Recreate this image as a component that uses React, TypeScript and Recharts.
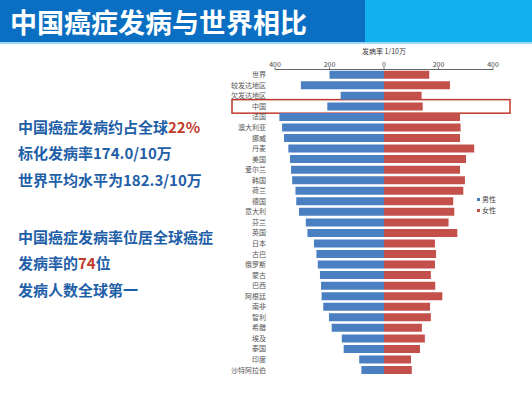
import React from 'react';
import {
    BarChart, Bar, XAxis, YAxis, Legend, ReferenceArea, Label,
} from 'recharts';

const BLUE = '#4a80c2';
const RED = '#c4504c';
const TEXT_BLUE = '#1f5fa8';
const FONT = '"Noto Sans CJK SC", "Noto Sans", sans-serif';

// 每10万人发病率
const countries = [
    '世界', '较发达地区', '欠发达地区', '中国', '法国', '澳大利亚', '挪威', '丹麦', '美国', '爱尔兰',
    '韩国', '荷兰', '德国', '意大利', '芬兰', '英国', '日本', '古巴', '俄罗斯', '蒙古',
    '巴西', '阿根廷', '南非', '智利', '希腊', '埃及', '泰国', '印度', '沙特阿拉伯',
];
const maleRate = [
    200, 305, 159, 208, 384, 374, 367, 351, 345, 341,
    337, 325, 322, 312, 287, 281, 257, 248, 243, 235,
    231, 229, 223, 202, 192, 155, 148, 91, 83,
];
const femaleRate = [
    166, 242, 138, 142, 279, 281, 279, 331, 301, 279,
    297, 291, 254, 258, 237, 269, 187, 191, 187, 172,
    188, 214, 169, 172, 139, 150, 132, 99, 102,
];
const rateTicks = [-400, -200, 0, 200, 400];
const highlight = '中国';

const data = countries.map((name, i) => ({
    name,
    male: -maleRate[i],
    female: femaleRate[i],
}));

const legendItems = [
    { label: '男性', color: BLUE },
    { label: '女性', color: RED },
];

const renderLegend = () => (
    <div style={{ fontSize: 7, color: '#444', lineHeight: '11px' }}>
        {legendItems.map((it) => (
            <div key={it.label} style={{ display: 'flex', alignItems: 'center' }}>
                <span style={{ width: 3, height: 3, background: it.color, marginRight: 2, display: 'inline-block' }} />
                {it.label}
            </div>
        ))}
    </div>
);

const HighlightBox = (props: any) => {
    const { x, y, width, height } = props;
    return (
        <rect
            x={x - 43}
            y={y - 1.5}
            width={width + 60}
            height={height + 3}
            fill='none'
            stroke='#c0392b'
            strokeWidth={1.5}
        />
    );
};

const line = (top: number, parts: { t: string; red?: boolean }[]) => (
    <div style={{
        position: 'absolute', left: 18, top, fontSize: 15, fontWeight: 700,
        color: TEXT_BLUE, lineHeight: '20px', whiteSpace: 'nowrap',
    }}>
        {parts.map((p, i) => (
            <span key={i} style={{ color: p.red ? '#c0392b' : TEXT_BLUE }}>{p.t}</span>
        ))}
    </div>
);

export default function App() {
    return (
        <div style={{
            position: 'absolute', left: 0, top: 0, width: 532, height: 393,
            background: '#fff', fontFamily: FONT, overflow: 'hidden',
        }}>
            <div style={{ position: 'absolute', left: 0, top: 0, width: 365, height: 42, background: '#0a6fc2' }} />
            <div style={{ position: 'absolute', left: 365, top: 0, width: 167, height: 42, background: '#12b0ec' }} />
            <div style={{ position: 'absolute', left: 0, top: 42, width: 532, height: 2, background: '#9ed8f2' }} />
            <div style={{
                position: 'absolute', left: 10, top: 4, fontSize: 27, fontWeight: 700,
                color: '#fff', lineHeight: '36px', whiteSpace: 'nowrap',
            }}>
                中国癌症发病与世界相比
            </div>

            {line(117, [{ t: '中国癌症发病约占全球' }, { t: '22%', red: true }])}
            {line(143, [{ t: '标化发病率174.0/10万' }])}
            {line(170, [{ t: '世界平均水平为182.3/10万' }])}
            {line(227, [{ t: '中国癌症发病率位居全球癌症' }])}
            {line(253, [{ t: '发病率的' }, { t: '74', red: true }, { t: '位' }])}
            {line(280, [{ t: '发病人数全球第一' }])}

            <div style={{ position: 'absolute', left: 220, top: 40 }}>
                <BarChart
                    width={312}
                    height={345}
                    data={data}
                    layout='vertical'
                    stackOffset='sign'
                    barCategoryGap='12%'
                    margin={{ top: 9.5, right: 39, bottom: 9.7, left: 0 }}
                >
                    <XAxis
                        type='number'
                        orientation='top'
                        domain={[-400, 400]}
                        ticks={rateTicks}
                        tickFormatter={(v) => String(Math.abs(v))}
                        height={20}
                        tickSize={2}
                        tickMargin={1}
                        tick={{ fontSize: 7, fill: '#444' }}
                        axisLine={{ stroke: '#666' }}
                        tickLine={{ stroke: '#666' }}
                    >
                        <Label value='发病率  1/10万' position='insideTop' offset={0} fontSize={7} fill='#333' />
                    </XAxis>
                    <YAxis
                        type='category'
                        dataKey='name'
                        width={55}
                        interval={0}
                        axisLine={false}
                        tickLine={false}
                        tickMargin={3}
                        tick={{ fontSize: 7, fill: '#555' }}
                    />
                    <Legend
                        layout='horizontal'
                        verticalAlign='middle'
                        align='center'
                        content={renderLegend}
                        wrapperStyle={{ left: 257, top: 154, width: 'auto' }}
                    />
                    <Bar dataKey='male' name='男性' stackId='a' fill={BLUE} isAnimationActive={false} />
                    <Bar dataKey='female' name='女性' stackId='a' fill={RED} isAnimationActive={false} />
                    <ReferenceArea y1={highlight} y2={highlight} ifOverflow='visible' shape={HighlightBox} />
                </BarChart>
            </div>
        </div>
    );
}
